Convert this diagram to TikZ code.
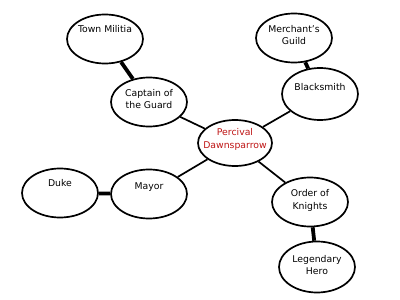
\documentclass[tikz,border=0pt]{standalone}
\usepackage{fontspec}
\setmainfont{DejaVu Sans}
\usetikzlibrary{shapes.geometric}
\definecolor{hubred}{RGB}{190,20,20}
\begin{document}
\begin{tikzpicture}[
  x=1pt, y=-1pt,
  bub/.style={draw=black, line width=1.7pt, ellipse,
              minimum width=76pt, minimum height=49pt,
              inner xsep=-12pt, inner ysep=0pt, align=center,
              font=\fontsize{9.3}{12.7}\selectfont},
  hub/.style={bub, text=hubred, minimum width=74pt, minimum height=46pt},
  up/.style={text depth=#1},
  link/.style={line width=1.7pt, black},
  tie/.style={line width=3.8pt, black},
]
\useasboundingbox (0,0) rectangle (400,300);
% centre
\node[hub, up=9pt] (perc) at (235,143) {Percival\\Dawnsparrow};
% left branch
\node[bub, up=6pt] (capt) at (149,102) {Captain of\\the Guard};
\node[bub, up=20pt] (mili) at (105,39) {Town Militia};
\node[bub, up=15pt] (mayr) at (149,194) {Mayor};
\node[bub, up=20pt] (duke) at (60,193) {Duke};
% right branch
\node[bub, up=6pt] (merc) at (294,38) {Merchant's\\Guild};
\node[bub, up=15pt, minimum height=52pt] (smit) at (320,94) {Blacksmith};
\node[bub, up=5pt] (ordr) at (310,202) {Order of\\Knights};
\node[bub, up=4pt, minimum height=51pt] (hero) at (317,267) {Legendary\\Hero};
% spokes to the hub
\draw[link] (capt) -- (perc);
\draw[link] (mayr) -- (perc);
\draw[link] (smit) -- (perc);
\draw[link] (ordr) -- (perc);
% outer ties
\draw[tie] (mili) -- (capt);
\draw[tie] (duke) -- (mayr);
\draw[tie] (merc) -- (smit);
\draw[tie] (ordr) -- (hero);
\end{tikzpicture}
\end{document}
